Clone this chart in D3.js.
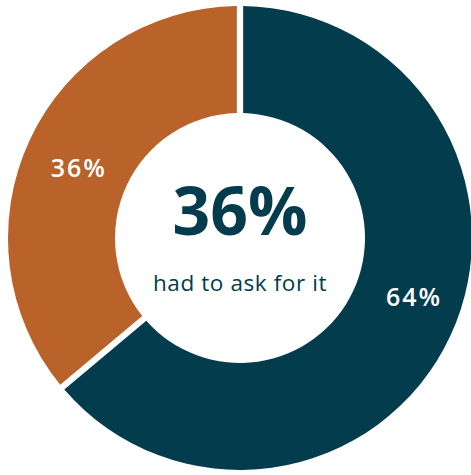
<!DOCTYPE html>
<html>
<head>
<meta charset="utf-8">
<script src="https://cdn.jsdelivr.net/npm/d3@7"></script>
<style>
    body { margin: 0; background: #fff; }
    svg { display: block; }
</style>
</head>
<body>
<div id="chart"></div>
<script>
const categories = ["Did not have to ask", "Had to ask for it"];
const values = [64, 36];
const sliceLabels = ["64%", "36%"];
const headline = "36%";
const caption = "had to ask for it";
const colors = ["#033c4d", "#b9622a"];

const width = 471, height = 475;
const cx = 240, cy = 238;
const outerR = 232, innerR = 125;

// small hand nudges so the labels sit where the original has them
const labelNudge = [[11, -17], [2, 6]];

const svg = d3.select("#chart")
    .append("svg")
    .attr("width", width)
    .attr("height", height);

const g = svg.append("g")
    .attr("transform", `translate(${cx},${cy})`);

const colorScale = d3.scaleOrdinal()
    .domain(categories)
    .range(colors);

const pie = d3.pie()
    .sort(null)
    .value(d => d.value)
    .padAngle(0.024);

const arcs = pie(categories.map((c, i) => ({ cat: c, value: values[i], label: sliceLabels[i], i: i })));

const arc = d3.arc()
    .innerRadius(innerR)
    .outerRadius(outerR);

const labelArc = d3.arc()
    .innerRadius(180)
    .outerRadius(180);

g.selectAll("path")
    .data(arcs)
    .join("path")
    .attr("d", arc)
    .attr("fill", d => colorScale(d.data.cat));

g.selectAll("text.slice")
    .data(arcs)
    .join("text")
    .classed("slice", true)
    .attr("transform", d => {
        const [x, y] = labelArc.centroid(d);
        const [nx, ny] = labelNudge[d.data.i];
        return `translate(${x + nx},${y + ny})`;
    })
    .attr("text-anchor", "middle")
    .attr("dy", "0.36em")
    .style("font-family", "'Open Sans', sans-serif")
    .style("font-weight", 600)
    .style("font-size", "25px")
    .style("letter-spacing", "2px")
    .attr("fill", "#fff")
    .text(d => d.data.label)

g.append("text")
    .attr("text-anchor", "middle")
    .attr("y", -3)
    .style("font-family", "'Open Sans', sans-serif")
    .style("font-weight", "bold")
    .style("font-size", "66px")
    .attr("fill", colors[0])
    .text(headline)

g.append("text")
    .attr("text-anchor", "middle")
    .attr("y", 53)
    .style("font-family", "'Open Sans', sans-serif")
    .style("font-size", "22.5px")
    .style("letter-spacing", "0.6px")
    .attr("fill", colors[0])
    .text(caption)
</script>
</body>
</html>
